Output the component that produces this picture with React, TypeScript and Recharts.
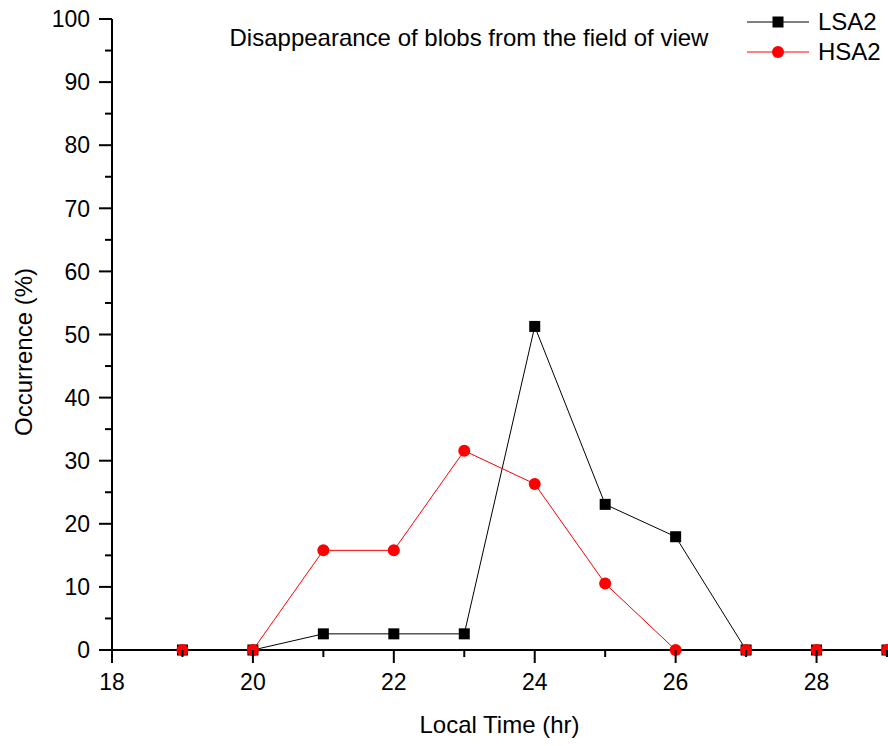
import { Line, LineChart, XAxis, YAxis } from "recharts";

const hours = [19, 20, 21, 22, 23, 24, 25, 26, 27, 28, 29];
const lsa2 = [0, 0, 2.56, 2.56, 2.56, 51.28, 23.08, 17.95, 0, 0, 0];
const hsa2 = [0, 0, 15.79, 15.79, 31.58, 26.32, 10.53, 0, 0, 0, 0];
const xTicks = [18, 19, 20, 21, 22, 23, 24, 25, 26, 27, 28, 29];
const yTicks = [0, 5, 10, 15, 20, 25, 30, 35, 40, 45, 50, 55, 60, 65, 70, 75, 80, 85, 90, 95, 100];

const data = hours.map((h, i) => ({ hour: h, lsa2: lsa2[i], hsa2: hsa2[i] }));

const FONT = "'Liberation Sans', Arial, sans-serif";

function XTick(props: any) {
    const { x, y, payload } = props;
    const major = payload.value % 2 === 0;
    return (
        <g>
            <line x1={x} x2={x} y1={y} y2={y + (major ? 13 : 7)} stroke="#000" strokeWidth={2} />
            {major && (
                <text x={x} y={y + 40} textAnchor="middle" fontSize={23} fontFamily={FONT} fill="#000">
                    {payload.value}
                </text>
            )}
        </g>
    );
}

function YTick(props: any) {
    const { x, y, payload } = props;
    const major = payload.value % 10 === 0;
    return (
        <g>
            <line x1={x} x2={x - (major ? 13 : 7)} y1={y} y2={y} stroke="#000" strokeWidth={2} />
            {major && (
                <text x={x - 22} y={y} dy="0.36em" textAnchor="end" fontSize={23} fontFamily={FONT} fill="#000">
                    {payload.value}
                </text>
            )}
        </g>
    );
}

function SquareDot(props: any) {
    const { cx, cy, index } = props;
    return <rect key={`sq-${index}`} x={cx - 5.5} y={cy - 5.5} width={11} height={11} fill="#000" />;
}

function CircleDot(props: any) {
    const { cx, cy, index } = props;
    return <circle key={`ci-${index}`} cx={cx} cy={cy} r={6} fill="#ff0000" />;
}

export default function App() {
    return (
        <div style={{ position: "absolute", left: 0, top: 0, width: 888, height: 746, background: "#fff", fontFamily: FONT }}>
            <LineChart width={888} height={746} data={data} margin={{ top: 19, right: 1, bottom: 0, left: 0 }}>
                <XAxis
                    dataKey="hour"
                    type="number"
                    domain={[18, 29]}
                    ticks={xTicks}
                    interval={0}
                    height={96}
                    tickSize={0}
                    tickMargin={0}
                    tickLine={false}
                    tick={<XTick />}
                    axisLine={{ stroke: "#000", strokeWidth: 2 }}
                    label={({ viewBox }: any) => (
                        <text x={viewBox.x + viewBox.width / 2} y={733} textAnchor="middle" fontSize={24} fontFamily={FONT} fill="#000">
                            Local Time (hr)
                        </text>
                    )}
                />
                <YAxis
                    type="number"
                    domain={[0, 100]}
                    ticks={yTicks}
                    interval={0}
                    width={112}
                    tickSize={0}
                    tickMargin={0}
                    tickLine={false}
                    tick={<YTick />}
                    axisLine={{ stroke: "#000", strokeWidth: 2 }}
                    label={() => (
                        <text x={32} y={352} transform="rotate(-90, 32, 352)" textAnchor="middle" fontSize={24} fontFamily={FONT} fill="#000">
                            Occurrence (%)
                        </text>
                    )}
                />
                <Line
                    dataKey="lsa2"
                    name="LSA2"
                    stroke="#000"
                    strokeWidth={1}
                    dot={(p: any) => <SquareDot {...p} />}
                    activeDot={false}
                    isAnimationActive={false}
                />
                <Line
                    dataKey="hsa2"
                    name="HSA2"
                    stroke="#ff0000"
                    strokeWidth={1}
                    dot={(p: any) => <CircleDot {...p} />}
                    activeDot={false}
                    isAnimationActive={false}
                />
            </LineChart>
            {/* title and legend sit inside the plot, like the original */}
            <svg width={888} height={746} style={{ position: "absolute", left: 0, top: 0, pointerEvents: "none" }}>
                <text x={469} y={46} textAnchor="middle" fontSize={24} fontFamily={FONT} fill="#000">
                    Disappearance of blobs from the field of view
                </text>
                <line x1={747} x2={809} y1={22} y2={22} stroke="#000" strokeWidth={1} />
                <rect x={772.5} y={16.5} width={11} height={11} fill="#000" />
                <text x={818} y={30} fontSize={24} fontFamily={FONT} fill="#000">LSA2</text>
                <line x1={747} x2={809} y1={52} y2={52} stroke="#ff0000" strokeWidth={1} />
                <circle cx={778} cy={52} r={6} fill="#ff0000" />
                <text x={818} y={60} fontSize={24} fontFamily={FONT} fill="#000">HSA2</text>
            </svg>
        </div>
    );
}
